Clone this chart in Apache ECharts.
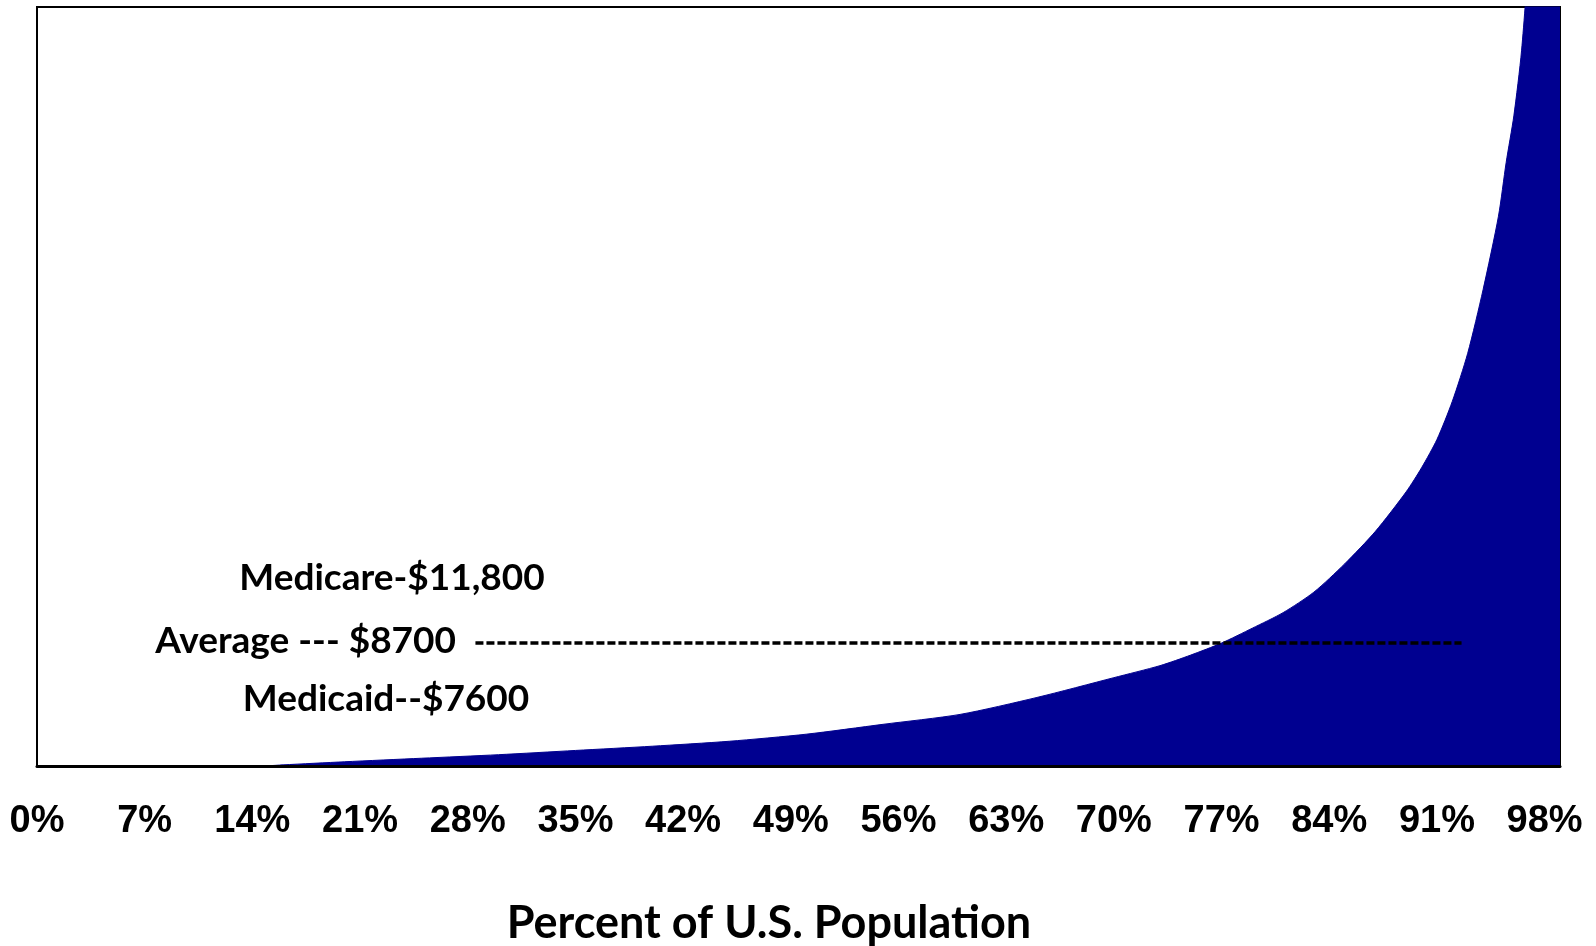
<!DOCTYPE html>
<html>
<head>
<meta charset="utf-8">
<script src="https://cdn.jsdelivr.net/npm/echarts@6/dist/echarts.min.js"></script>
<style>
  html, body { margin: 0; padding: 0; background: #fff; }
  #myChart { width: 1596px; height: 946px; }
</style>
</head>
<body>
<div id="myChart"></div>
<script>
// percentile of U.S. population (x) and yearly health spending per person (y, $)
let pctPop = [0, 10, 15, 16, 20, 25, 30, 35, 40, 45, 50, 55, 60, 65, 70, 73, 75, 77, 79, 81, 83, 85, 87, 89, 90, 91, 92, 93, 94, 95, 95.5, 96, 96.5, 97, 98, 99];
let spending = [0, 0, 20, 80, 300, 550, 800, 1100, 1400, 1750, 2250, 2950, 3650, 4850, 6250, 7100, 7850, 8700, 9750, 10850, 12300, 14300, 16600, 19400, 21100, 23100, 25800, 29200, 33700, 38900, 42700, 46000, 50600, 58000, 80000, 120000];
let average = 8700;
let avgFrom = 28.5, avgTo = 92.6;   // extent of the dashed average line (% of pop.)
let notes = ['Medicare-$11,800', 'Average --- $8700', 'Medicaid--$7600'];

let navy = '#000090';
let calibriLike = 'Lato';

let data = pctPop.map((p, i) => [p, spending[i]]);

let option = {
  backgroundColor: '#fff',
  animation: false,
  grid: {
    left: 37, right: 36, top: 7, bottom: 180,
    outerBoundsMode: 'none',
    show: true, borderColor: '#000', borderWidth: 2, backgroundColor: 'transparent'
  },
  xAxis: {
    type: 'value',
    min: 0, max: 99, interval: 7,
    z: 10,
    axisLine: { show: true, onZero: false, lineStyle: { color: '#000', width: 3 } },
    axisTick: { show: false },
    splitLine: { show: false },
    axisLabel: {
      showMaxLabel: false,
      formatter: '{value}%',
      fontFamily: '"Liberation Sans", Arial, sans-serif',
      fontWeight: 'bold', fontSize: 38, color: '#000', margin: 37, lineHeight: 38
    },
    name: 'Percent of U.S. Population',
    nameLocation: 'middle',
    nameGap: 135,
    nameTextStyle: { fontFamily: calibriLike, fontWeight: 'bold', fontSize: 45, color: '#000', padding: [0, 59, 0, 0] }
  },
  yAxis: {
    type: 'value', min: 0, max: 53700,
    show: false
  },
  series: [{
    type: 'line',
    data: data,
    smooth: 0.25,
    showSymbol: false,
    clip: true,
    lineStyle: { color: navy, width: 1 },
    areaStyle: { color: navy, opacity: 1 },
    markLine: {
      silent: true,
      symbol: 'none',
      label: { show: false },
      lineStyle: { color: '#000', width: 3.5, type: [8, 3] },
      data: [[{ coord: [avgFrom, average] }, { coord: [avgTo, average] }]]
    }
  }]
};

let myChart = echarts.init(document.getElementById('myChart'));
option.graphic = [
  { type: 'text', x: 392, y: 578, style: { text: notes[0], font: 'bold 37px ' + calibriLike, fill: '#000', align: 'center', verticalAlign: 'middle' } },
  { type: 'text', x: 456, y: 641, style: { text: notes[1], font: 'bold 37px ' + calibriLike, fill: '#000', align: 'right', verticalAlign: 'middle' } },
  { type: 'text', x: 386, y: 699, style: { text: notes[2], font: 'bold 37px ' + calibriLike, fill: '#000', align: 'center', verticalAlign: 'middle' } }
];
myChart.setOption(option);
</script>
</body>
</html>
